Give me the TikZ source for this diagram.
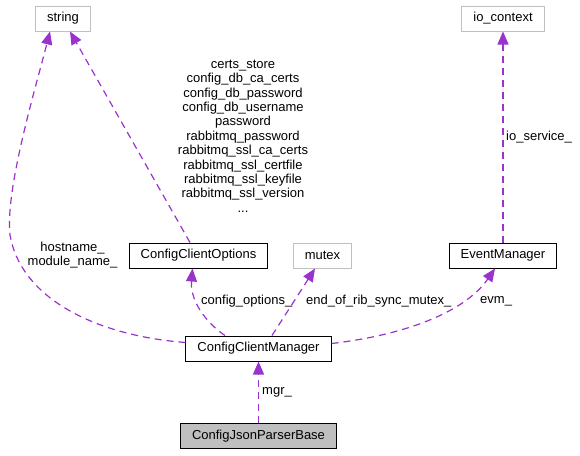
\documentclass[tikz,border=0pt]{standalone}
\usepackage{fontspec}
\setmainfont{Liberation Sans}
\usetikzlibrary{arrows.meta}
\definecolor{EdgeColor}{HTML}{9A32CD}
\definecolor{GreyLine}{HTML}{BFBFBF}
\tikzset{ClassStyle/.style={draw=black,fill=white,line width=1pt,minimum height=25pt,
    inner xsep=11.5pt,inner ysep=0pt,font=\fontsize{13}{14.4}\selectfont}}
\tikzset{ExternStyle/.style={ClassStyle,draw=GreyLine}}
\tikzset{MainStyle/.style={ClassStyle,fill=GreyLine}}
\tikzset{LabelStyle/.style={inner sep=0pt,align=center,font=\fontsize{13}{14.4}\selectfont}}
\tikzset{EdgeStyle/.style={draw=EdgeColor,line width=1.2pt,dash pattern=on 7pt off 5pt,
    -{Triangle[length=13pt,width=11pt]}}}

\begin{document}
\begin{tikzpicture}[x=1pt,y=-1pt]
        \useasboundingbox (0,0) rectangle (580,455);
        \node[ExternStyle] (string) at (63,18.5) {string};
        \node[ExternStyle] (ioctx) at (503,18.5) {io\_context};
        \node[ClassStyle] (options) at (198.5,255.5) {ConfigClientOptions};
        \node[ExternStyle] (mutex) at (322.5,255.5) {mutex};
        \node[ClassStyle] (evmgr) at (503,255.5) {EventManager};
        \node[ClassStyle] (manager) at (258.5,348.5) {ConfigClientManager};
        \node[MainStyle] (parser) at (258.5,436) {ConfigJsonParserBase};
        \draw[EdgeStyle] ([yshift=6pt]manager.west) .. controls (90,335) and (20,295) .. (10,235)
            .. controls (5,190) and (35,90) .. ([xshift=-13pt]string.south);
        \draw[EdgeStyle] ([xshift=-8.5pt]options.north) -- ([xshift=7pt]string.south);
        \draw[EdgeStyle] ([xshift=-33.5pt]manager.north) .. controls (205,322) and (190,300) .. ([xshift=-6pt]options.south);
        \draw[EdgeStyle] ([xshift=13.5pt]manager.north) -- ([xshift=-7.5pt]mutex.south);
        \draw[EdgeStyle] ([yshift=5pt]manager.east) .. controls (405,335) and (465,312) .. ([xshift=-8pt]evmgr.south);
        \draw[EdgeStyle] (evmgr) -- (ioctx);
        \draw[EdgeStyle] (parser) -- (manager);
        \node[LabelStyle] (lbhost) at (72.5,255) {hostname\_\\module\_name\_};
        \node[LabelStyle] (lbcerts) at (243,136) {certs\_store\\config\_db\_ca\_certs\\config\_db\_password\\
            config\_db\_username\\password\\rabbitmq\_password\\rabbitmq\_ssl\_ca\_certs\\
            rabbitmq\_ssl\_certfile\\rabbitmq\_ssl\_keyfile\\rabbitmq\_ssl\_version\\...};
        \node[LabelStyle,anchor=west] (lbopt) at (201,301) {config\_options\_};
        \node[LabelStyle,anchor=west] (lbmutex) at (306,301) {end\_of\_rib\_sync\_mutex\_};
        \node[LabelStyle,anchor=west] (lbevm) at (480,301) {evm\_};
        \node[LabelStyle,anchor=west] (lbio) at (506,137) {io\_service\_};
        \node[LabelStyle,anchor=west] (lbmgr) at (262,392) {mgr\_};
\end{tikzpicture}
\end{document}
